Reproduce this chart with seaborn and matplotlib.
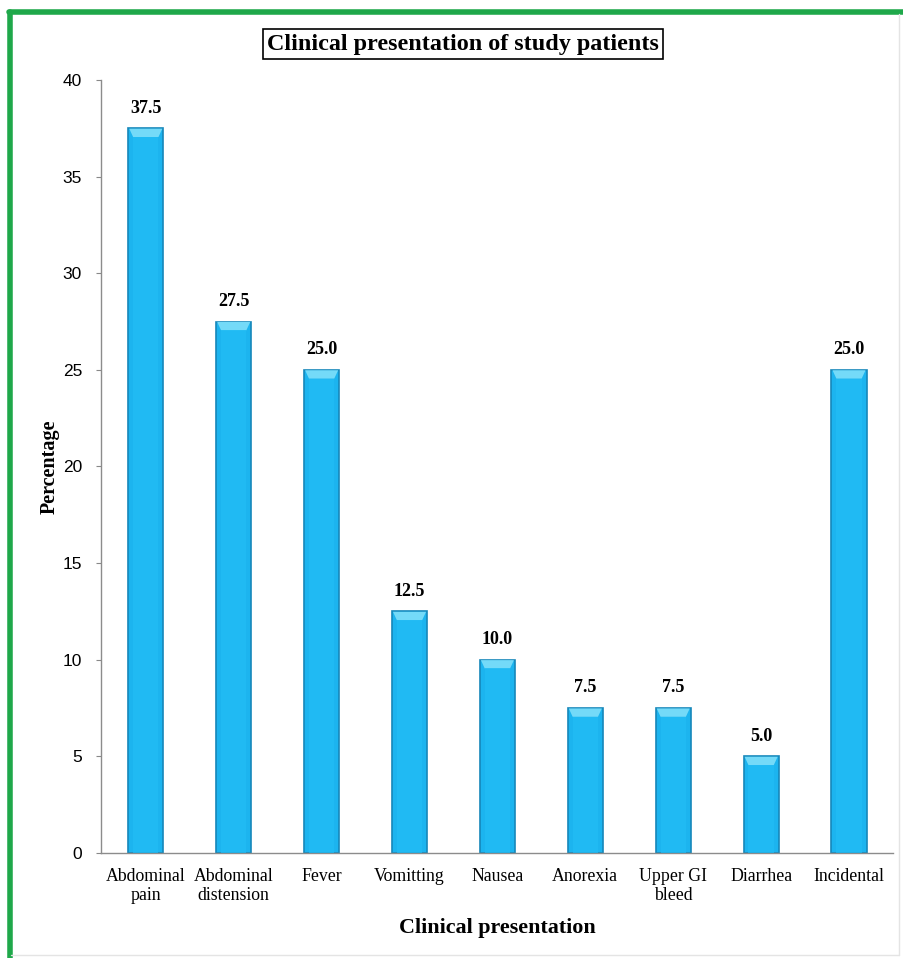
import matplotlib
matplotlib.use("Agg")
import matplotlib.pyplot as plt
import seaborn as sns
import pandas as pd
from matplotlib.patches import Rectangle, Polygon
from matplotlib.lines import Line2D

categories = ["Abdominal\npain", "Abdominal\ndistension", "Fever", "Vomitting", "Nausea",
              "Anorexia", "Upper GI\nbleed", "Diarrhea", "Incidental"]
percentages = [37.5, 27.5, 25.0, 12.5, 10.0, 7.5, 7.5, 5.0, 25.0]
y_ticks = [0, 5, 10, 15, 20, 25, 30, 35, 40]

df = pd.DataFrame({"presentation": categories, "pct": percentages})

sns.set_style("white")
plt.rcParams["text.color"] = "black"
plt.rcParams["xtick.color"] = "black"
plt.rcParams["ytick.color"] = "black"
plt.rcParams["axes.labelcolor"] = "black"
serif = ["Liberation Serif", "DejaVu Serif"]
sans = ["Liberation Sans", "DejaVu Sans"]

fig = plt.figure(figsize=(9.04, 9.58), dpi=100)
ax = fig.add_axes([0.1117, 0.1096, 0.8761, 0.8069])

sns.barplot(data=df, x="presentation", y="pct", ax=ax, color="#1CB4EF",
            width=0.40, edgecolor="#1687BA", linewidth=1.2, saturation=1)

# bevelled look: lighter cap on top and a soft centre sheen
for patch in ax.patches:
    x0 = patch.get_x()
    w = patch.get_width()
    h = patch.get_height()
    cap = Polygon([(x0 + w * 0.03, h - 0.02), (x0 + w * 0.97, h - 0.02),
                   (x0 + w * 0.86, h - 0.45), (x0 + w * 0.14, h - 0.45)],
                  closed=True, facecolor="#74DAF8", edgecolor="none", zorder=3)
    ax.add_patch(cap)
    ax.add_patch(Rectangle((x0 + w * 0.14, 0), w * 0.72, h - 0.45,
                           facecolor="#22BDF5", edgecolor="none", zorder=3, alpha=0.7))

for i, v in enumerate(percentages):
    ax.text(i, v + 0.6, f"{v:.1f}", ha="center", va="bottom",
            fontsize=13, fontweight="bold", family=serif)

ax.set_xlim(-0.51, 8.5)
ax.set_ylim(0, 40)
ax.set_yticks(y_ticks)
ax.set_yticklabels([str(t) for t in y_ticks], family=sans, fontsize=12.5)
ax.set_xticks(range(len(categories)))
ax.set_xticklabels(categories, family=serif, fontsize=12.8, linespacing=1.15)
ax.tick_params(axis="x", length=0, pad=11)
ax.tick_params(axis="y", length=3.6, width=0.8, color="#888888", direction="out", pad=10, left=True)

sns.despine(ax=ax)
for s in ("left", "bottom"):
    ax.spines[s].set_color("#8C8C8C")
    ax.spines[s].set_linewidth(1.0)

ax.set_xlabel("Clinical presentation", family=serif, fontsize=15.8, fontweight="bold", labelpad=10)
ax.set_ylabel("Percentage", family=serif, fontsize=14.5, fontweight="bold", labelpad=2)

fig.text(0.512, 0.954, "Clinical presentation of study patients", ha="center", va="center",
         family=serif, fontsize=17.4, fontweight="bold",
         bbox=dict(boxstyle="square,pad=0.18", facecolor="white", edgecolor="black", linewidth=1.2))

# frame around the figure
fig.add_artist(Line2D([0.0115, 0.0115], [0.0, 0.9875], color="#1FA84A", linewidth=4,
                      transform=fig.transFigure))
fig.add_artist(Line2D([0.0095, 1.0], [0.9875, 0.9875], color="#1FA84A", linewidth=4,
                      transform=fig.transFigure))
fig.add_artist(Line2D([0.994, 0.994], [0.003, 0.985], color="#E4E4E4", linewidth=1,
                      transform=fig.transFigure))
fig.add_artist(Line2D([0.012, 0.994], [0.003, 0.003], color="#E4E4E4", linewidth=1,
                      transform=fig.transFigure))

fig.savefig("out.png", dpi=100)
